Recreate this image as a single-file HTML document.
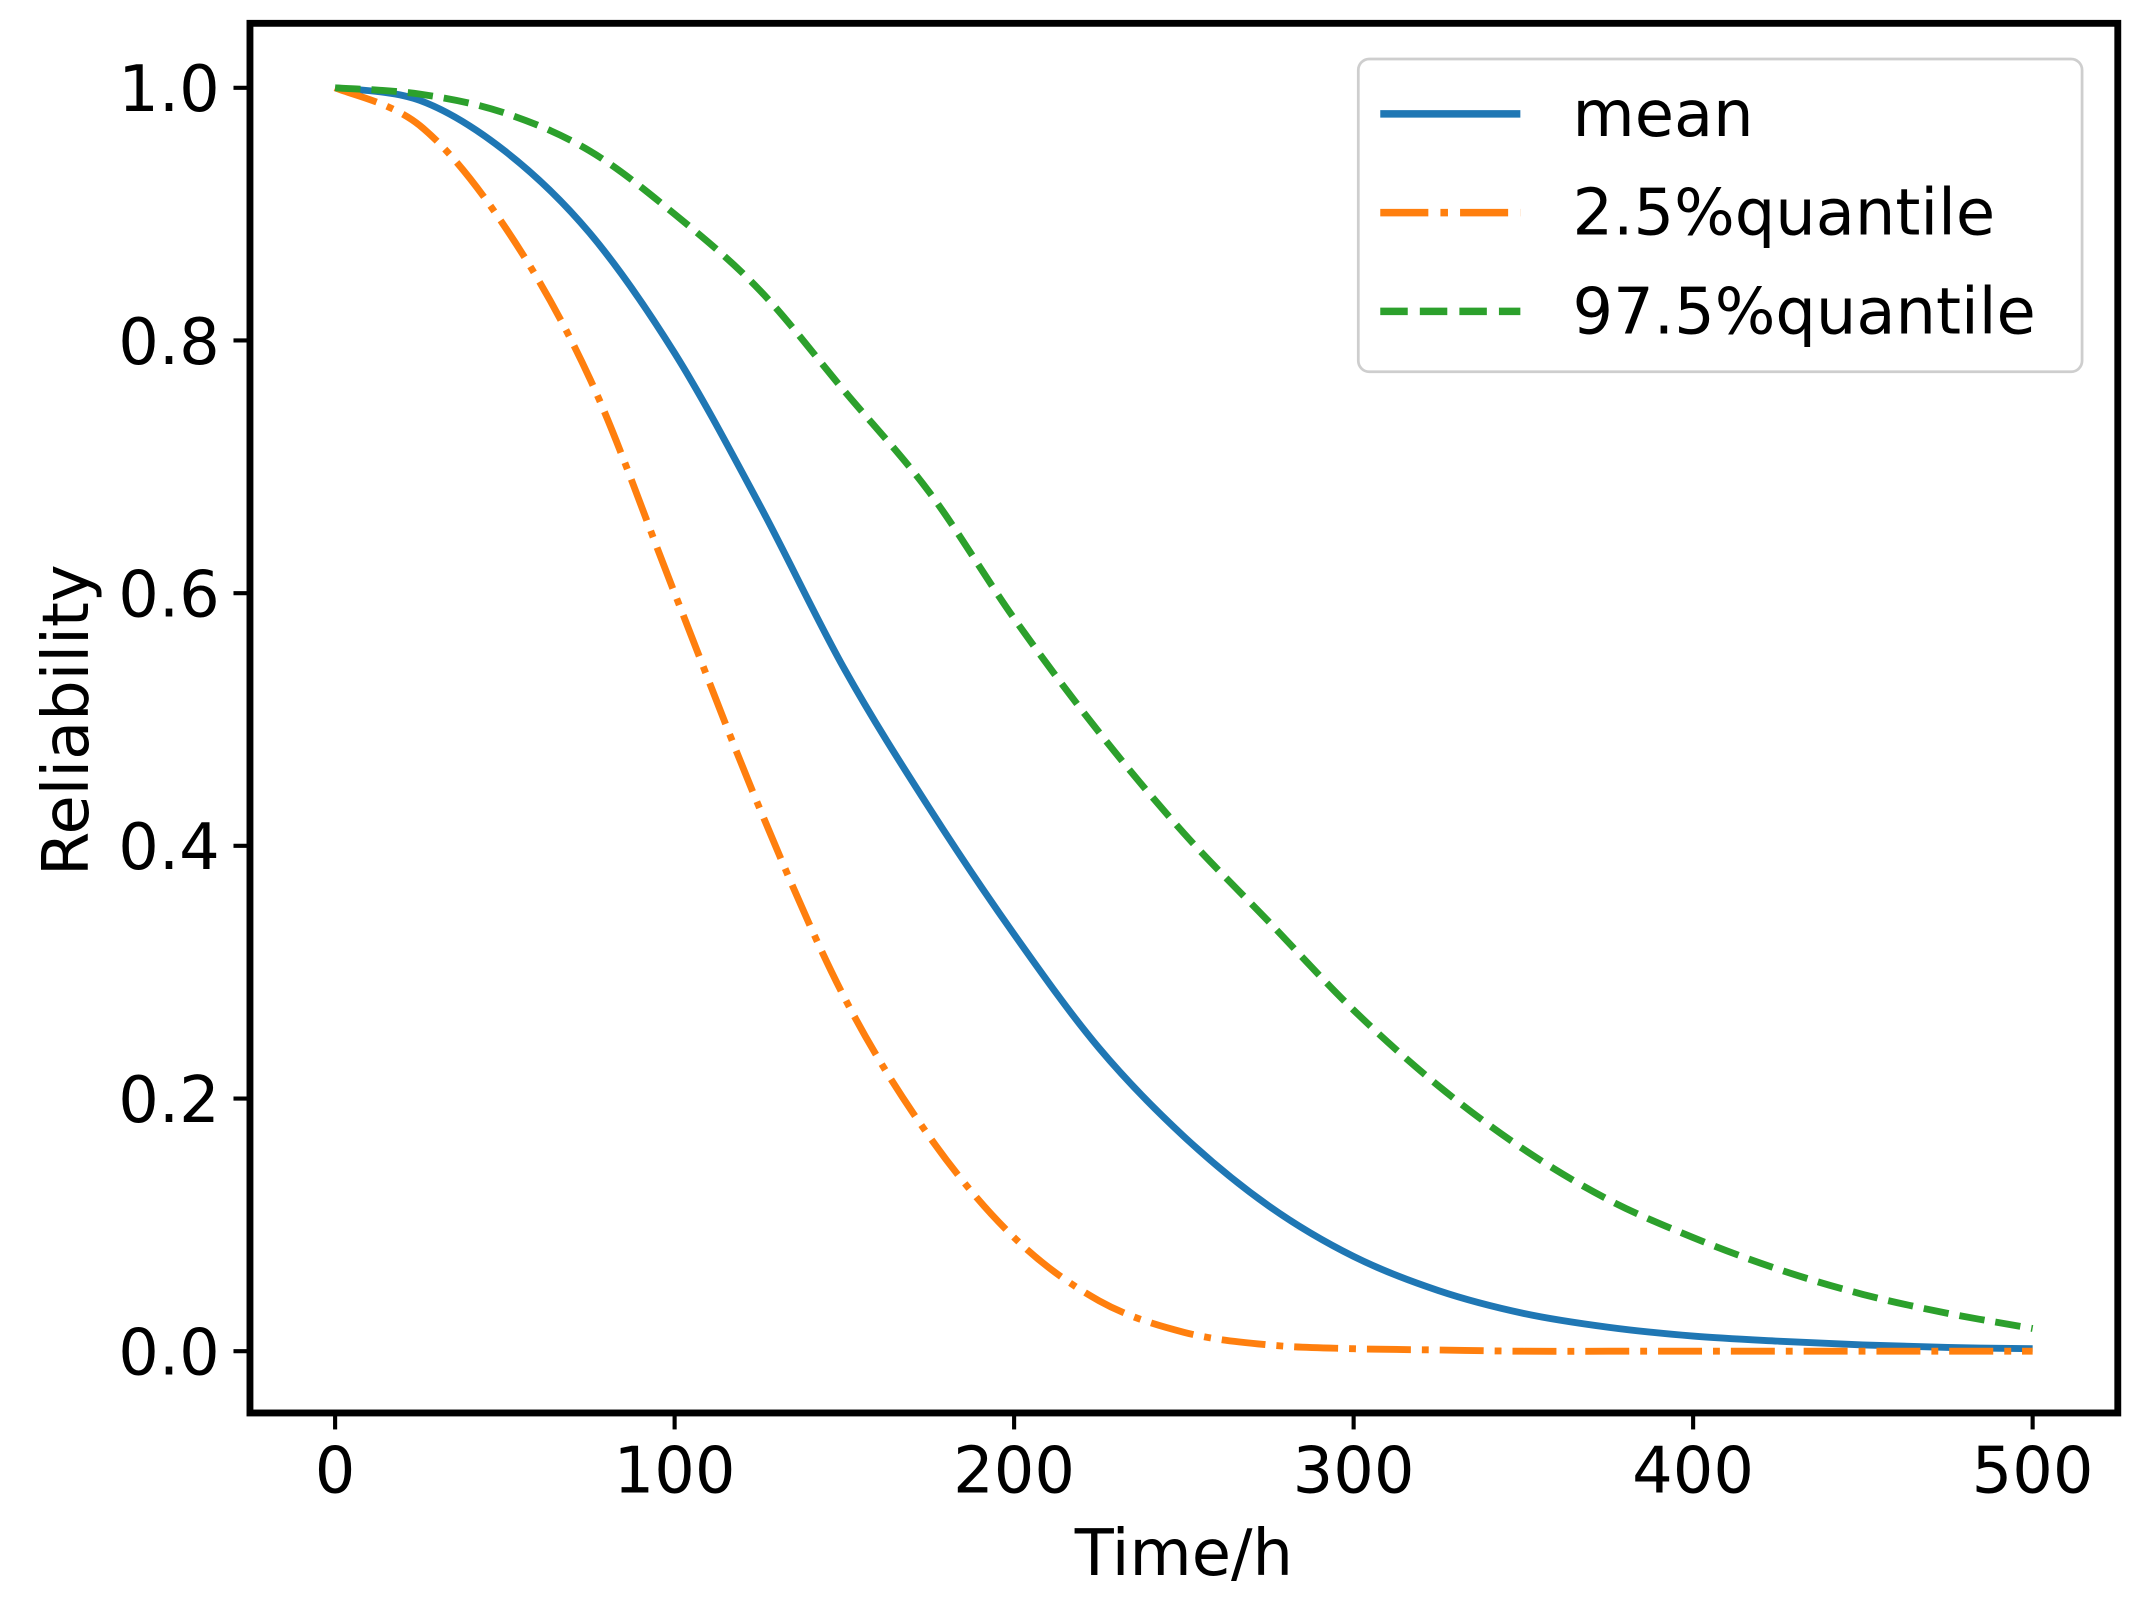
<!DOCTYPE html>
<html><head><meta charset="utf-8"><style>
html,body{margin:0;padding:0;background:#fff;}
svg{display:block;}
text{font-family:"DejaVu Sans","Liberation Sans",sans-serif;fill:#000;}
</style></head><body>
<svg id="chart" width="2148" height="1616" viewBox="0 0 1564 1178" preserveAspectRatio="none" xmlns="http://www.w3.org/2000/svg">
<rect x="0" y="0" width="1564" height="1178" fill="#fff"/>
<g id="plot"></g>
<rect x="182" y="17" width="1360" height="1013" fill="none" stroke="#000" stroke-width="5"/>
<text x="862" y="1148" font-size="46.5" text-anchor="middle">Time/h</text>
<text x="0" y="0" font-size="46.5" text-anchor="middle" transform="translate(64,525) rotate(-90)">Reliability</text>
<g>
<rect x="989" y="43" width="527" height="228" rx="8" fill="#fff" stroke="#ccc" stroke-width="2" opacity="0.95"/>
<line x1="1005" y1="83" x2="1107" y2="83" stroke="#1f77b4" stroke-width="5.5"/>
<text x="1145" y="99" font-size="46.5">mean</text>
<line x1="1005" y1="155" x2="1107" y2="155" stroke="#ff7f0e" stroke-width="5.5" stroke-dasharray="35,8.8,5.5,8.8"/>
<text x="1145" y="171" font-size="46.5">2.5%quantile</text>
<line x1="1005" y1="227" x2="1107" y2="227" stroke="#2ca02c" stroke-width="5.5" stroke-dasharray="20,8.8"/>
<text x="1145" y="243" font-size="46.5">97.5%quantile</text>
</g>
</svg>
<script>
const times = [0,25,50,75,100,125,150,175,200,225,250,275,300,325,350,375,400,425,450,475,500];
const meanVals = [1,0.99,0.95,0.885,0.79,0.67,0.54,0.43,0.33,0.24,0.17,0.115,0.075,0.048,0.03,0.019,0.012,0.008,0.005,0.003,0.002];
const q025Vals = [1,0.97,0.89,0.77,0.6,0.43,0.28,0.17,0.09,0.04,0.015,0.005,0.002,0.001,0,0,0,0,0,0,0];
const q975Vals = [1,0.995,0.98,0.95,0.9,0.84,0.76,0.68,0.58,0.49,0.41,0.34,0.27,0.21,0.16,0.12,0.09,0.065,0.045,0.03,0.018];
const xTicks = [0,100,200,300,400,500];
const yTicks = [0.0,0.2,0.4,0.6,0.8,1.0];

const NS = "http://www.w3.org/2000/svg";
function xs(t){ return 244 + (t/500)*(1480-244); }
function ys(v){ return 985 - v*(985-64); }
const g = document.getElementById('plot');

function smoothPath(xv, yv){
  const p = xv.map((t,i)=>[xs(t), ys(yv[i])]);
  let d = "M"+p[0][0]+","+p[0][1];
  for(let i=0;i<p.length-1;i++){
    const p0=p[i-1]||p[i], p1=p[i], p2=p[i+1], p3=p[i+2]||p2;
    const c1x=p1[0]+(p2[0]-p0[0])/6, c1y=p1[1]+(p2[1]-p0[1])/6;
    const c2x=p2[0]-(p3[0]-p1[0])/6, c2y=p2[1]-(p3[1]-p1[1])/6;
    d += " C"+c1x+","+c1y+" "+c2x+","+c2y+" "+p2[0]+","+p2[1];
  }
  return d;
}

xTicks.forEach(t=>{
  const l=document.createElementNS(NS,'line');
  
  
  l.setAttribute('x1',xs(t));l.setAttribute('x2',xs(t));
  l.setAttribute('y1',1030);l.setAttribute('y2',1042);
  l.setAttribute('stroke','#000');l.setAttribute('stroke-width','3');
  g.appendChild(l);
  const tx=document.createElementNS(NS,'text');
  
  
  tx.setAttribute('x',xs(t));tx.setAttribute('y',1088);
  tx.setAttribute('font-size','46.5');tx.setAttribute('text-anchor','middle');
  tx.textContent=String(t);
  g.appendChild(tx);
});
yTicks.forEach(v=>{
  const l=document.createElementNS(NS,'line');
  
  
  l.setAttribute('x1',170);l.setAttribute('x2',182);
  l.setAttribute('y1',ys(v));l.setAttribute('y2',ys(v));
  l.setAttribute('stroke','#000');l.setAttribute('stroke-width','3');
  g.appendChild(l);
  const tx=document.createElementNS(NS,'text');
  
  
  tx.setAttribute('x',160);tx.setAttribute('y',ys(v)+17);
  tx.setAttribute('font-size','46.5');tx.setAttribute('text-anchor','end');
  tx.textContent=v.toFixed(1);
  g.appendChild(tx);
});

function addLine(name, vals, color, dash){
  const p=document.createElementNS(NS,'path');
  
  
  p.setAttribute('d', smoothPath(times, vals));
  p.setAttribute('fill','none');
  p.setAttribute('stroke',color);
  p.setAttribute('stroke-width','5');
  if(dash) p.setAttribute('stroke-dasharray',dash);
  g.appendChild(p);
}
addLine('mean-line', meanVals, '#1f77b4', null);
addLine('q025-line', q025Vals, '#ff7f0e', '32,8,5,8');
addLine('q975-line', q975Vals, '#2ca02c', '18.5,8');
</script>
</body></html>
